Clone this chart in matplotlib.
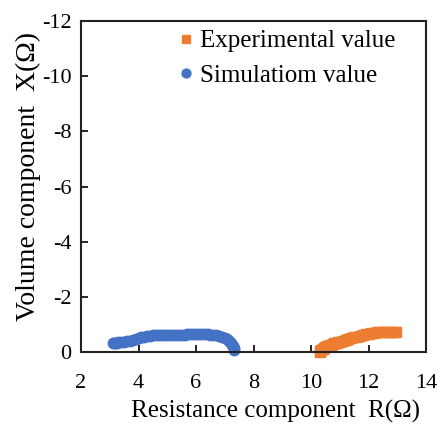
import matplotlib
matplotlib.use("Agg")
import matplotlib.pyplot as plt

plt.rcParams["font.family"] = ["Liberation Serif", "DejaVu Serif"]
plt.rcParams["axes.unicode_minus"] = False

# simulated curve (R, X)
sim_r = [3.10, 3.15, 3.20, 3.25, 3.30, 3.40, 3.50, 3.60, 3.70, 3.80, 3.90, 4.00,
         4.10, 4.20, 4.30, 4.40, 4.50, 4.60, 4.70, 4.80, 4.90, 5.00, 5.10, 5.20,
         5.30, 5.40, 5.50, 5.60, 5.70, 5.80, 5.90, 6.00, 6.10, 6.20, 6.30, 6.40,
         6.50, 6.60, 6.70, 6.80, 6.90, 7.00, 7.08, 7.15, 7.20, 7.25, 7.28, 7.31,
         7.33]
sim_x = [-0.33, -0.33, -0.34, -0.34, -0.35, -0.36, -0.37, -0.39, -0.41, -0.44,
         -0.47, -0.50, -0.53, -0.55, -0.57, -0.59, -0.60, -0.61, -0.62, -0.62,
         -0.63, -0.63, -0.63, -0.63, -0.63, -0.63, -0.63, -0.63, -0.64, -0.64,
         -0.64, -0.64, -0.64, -0.64, -0.64, -0.64, -0.63, -0.62, -0.61, -0.59,
         -0.56, -0.51, -0.46, -0.40, -0.34, -0.27, -0.20, -0.13, -0.06]

# measured curve (R, X)
exp_r = [10.30, 10.33, 10.36, 10.40, 10.45, 10.50, 10.55, 10.60, 10.65, 10.70,
         10.75, 10.80, 10.85, 10.90, 10.95, 11.00, 11.10, 11.20, 11.30, 11.40,
         11.50, 11.60, 11.70, 11.80, 11.90, 12.00, 12.10, 12.20, 12.30, 12.40,
         12.50, 12.60, 12.70, 12.80, 12.90, 12.95]
exp_x = [-0.01, -0.05, -0.09, -0.12, -0.15, -0.18, -0.20, -0.22, -0.25, -0.27,
         -0.29, -0.31, -0.33, -0.34, -0.36, -0.37, -0.41, -0.44, -0.47, -0.50,
         -0.53, -0.56, -0.59, -0.62, -0.65, -0.67, -0.69, -0.70, -0.71, -0.72,
         -0.72, -0.73, -0.73, -0.73, -0.74, -0.74]

x_ticks = [2, 4, 6, 8, 10, 12, 14]
y_ticks = [0, -2, -4, -6, -8, -10, -12]

fig = plt.figure(figsize=(4.37, 4.34), dpi=100)
ax = fig.add_axes([81 / 437, 82 / 434, 345 / 437, 331 / 434])

ax.plot(exp_r, exp_x, linestyle="none", marker="s", markersize=7,
        color="#ED7D31", label="Experimental value", clip_on=False)
ax.plot(sim_r, sim_x, linestyle="none", marker="o", markersize=7.5,
        color="#4472C4", label="Simulatiom value", clip_on=False)

ax.set_xlim(2, 14)
ax.set_ylim(0, -12)
ax.set_xticks(x_ticks)
ax.set_yticks(y_ticks)
ax.tick_params(direction="in", labelsize=16, length=5, width=1.2)
ax.tick_params(axis="x", pad=16)
ax.tick_params(axis="y", pad=7)
for s in ax.spines.values():
    s.set_linewidth(1.5)
    s.set_color("#222222")

ax.set_xlabel("Resistance component  R(Ω)", fontsize=18)
ax.xaxis.set_label_coords(0.565, -0.145)
ax.set_ylabel("Volume component  X(Ω)", fontsize=20)
ax.yaxis.set_label_coords(-0.115, 0.53)

leg = ax.legend(loc="upper left", bbox_to_anchor=(178 / 437, 1 - 30 / 434),
                bbox_transform=fig.transFigure, frameon=False, fontsize=18,
                handlelength=0.6, handletextpad=0.3, borderpad=0,
                borderaxespad=0, labelspacing=0.47, markerscale=0.85)

fig.savefig("out.png", dpi=100)
